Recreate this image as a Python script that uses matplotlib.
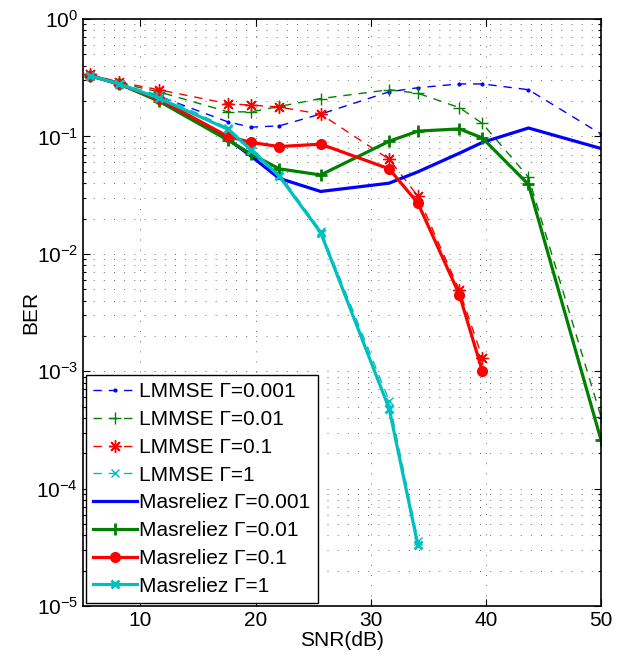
import numpy as np
import matplotlib
matplotlib.use("Agg")
import matplotlib.pyplot as plt
from matplotlib.ticker import FixedLocator, LogLocator, NullFormatter

plt.rcParams['font.family'] = ['Liberation Sans', 'DejaVu Sans']
plt.rcParams['mathtext.fontset'] = 'custom'
plt.rcParams['mathtext.rm'] = 'Liberation Sans'
plt.rcParams['mathtext.it'] = 'Liberation Sans:italic'

snr = [5.6, 8.15, 11.6, 17.6, 19.6, 22.05, 25.65, 31.6, 34.1, 37.7, 39.7, 43.7, 50]

# LMMSE curves (dashed)
lmmse_0001 = [0.33, 0.28, 0.22, 0.133, 0.12, 0.123, 0.155, 0.24, 0.26, 0.28, 0.28, 0.25, 0.105]
lmmse_001 = [0.33, 0.285, 0.24, 0.162, 0.162, 0.18, 0.21, 0.25, 0.233, 0.176, 0.129, 0.045, 4.1e-4]
lmmse_01_x = snr[:11]
lmmse_01 = [0.34, 0.29, 0.25, 0.19, 0.185, 0.178, 0.155, 0.064, 0.031, 0.0049, 1.3e-3]
lmmse_1_x = snr[:9]
lmmse_1 = [0.33, 0.28, 0.225, 0.118, 0.08, 0.048, 0.0158, 5.6e-4, 3.6e-5]

# Masreliez curves (solid)
mas_0001 = [0.33, 0.28, 0.205, 0.095, 0.068, 0.044, 0.034, 0.04, 0.05, 0.072, 0.089, 0.118, 0.079]
mas_001 = [0.33, 0.28, 0.2, 0.093, 0.071, 0.053, 0.047, 0.091, 0.111, 0.116, 0.097, 0.039, 2.6e-4]
mas_01_x = snr[:11]
mas_01 = [0.33, 0.28, 0.208, 0.1, 0.089, 0.082, 0.086, 0.053, 0.027, 0.0045, 1.0e-3]
mas_1_x = snr[:9]
mas_1 = [0.33, 0.28, 0.212, 0.115, 0.077, 0.046, 0.0152, 4.8e-4, 3.3e-5]

blue = (0, 0, 1)
green = (0, 0.5, 0)
red = (1, 0, 0)
cyan = (0, 0.75, 0.75)
ast = (8, 2, 0)
dash = (0, (6, 5))

fig = plt.figure(figsize=(6.28, 6.56), dpi=100)
ax = fig.add_axes([0.132, 0.076, 0.825, 0.895])

ax.semilogy(snr, lmmse_0001, ls=dash, color=blue, lw=1, marker='.', ms=4,
            label='LMMSE Γ=0.001')
ax.semilogy(snr, lmmse_001, ls=dash, color=green, lw=1, marker='+', ms=9, mew=1,
            label='LMMSE Γ=0.01')
ax.semilogy(lmmse_01_x, lmmse_01, ls=dash, color=red, lw=1, marker=ast, ms=9, mew=1,
            label='LMMSE Γ=0.1')
ax.semilogy(lmmse_1_x, lmmse_1, ls=dash, color=cyan, lw=1, marker='x', ms=6, mew=1,
            label='LMMSE Γ=1')
ax.semilogy(snr, mas_0001, '-', color=blue, lw=2.3, label='Masreliez Γ=0.001')
ax.semilogy(snr, mas_001, '-', color=green, lw=2.3, marker='+', ms=9, mew=2,
            label='Masreliez Γ=0.01')
ax.semilogy(mas_01_x, mas_01, '-', color=red, lw=2.3, marker='o', ms=7,
            label='Masreliez Γ=0.1')
ax.semilogy(mas_1_x, mas_1, '-', color=cyan, lw=2.3, marker='x', ms=6, mew=2,
            label='Masreliez Γ=1')

ax.set_xlim(5, 50)
ax.set_ylim(1e-5, 1)
ax.xaxis.set_major_locator(FixedLocator([10, 20, 30, 40, 50]))
ax.yaxis.set_minor_locator(LogLocator(base=10, subs=np.arange(2, 10), numticks=20))
ax.yaxis.set_minor_formatter(NullFormatter())
ax.set_yticks([1e-5, 1e-4, 1e-3, 1e-2, 1e-1, 1])
ax.set_yticklabels([r'$10^{-5}$', r'$10^{-4}$', r'$10^{-3}$', r'$10^{-2}$',
                    r'$10^{-1}$', r'$10^{0}$'])

ax.tick_params(which='both', direction='in', top=True, right=True,
               labelsize=15, width=0.8)
ax.tick_params(which='major', length=5)
ax.tick_params(which='minor', length=2.5)

ax.grid(True, which='major', axis='x', color='0.35', lw=0.6, ls=(0, (1.2, 11)))
ax.grid(True, which='both', axis='y', color='0.35', lw=0.6, ls=(0, (1.2, 11)))
for s in ax.spines.values():
    s.set_linewidth(1.2)

ax.set_xlabel('SNR(dB)', fontsize=15, labelpad=1)
ax.set_ylabel('BER', fontsize=15, labelpad=-3)

leg = ax.legend(loc='lower left', fontsize=15, handlelength=2.1, numpoints=1,
                labelspacing=0.42, borderpad=0.35, handletextpad=0.1,
                borderaxespad=0.15, fancybox=False, framealpha=1)
leg.get_frame().set_edgecolor('black')
leg.get_frame().set_linewidth(1.0)

fig.savefig('out.png', dpi=100)
